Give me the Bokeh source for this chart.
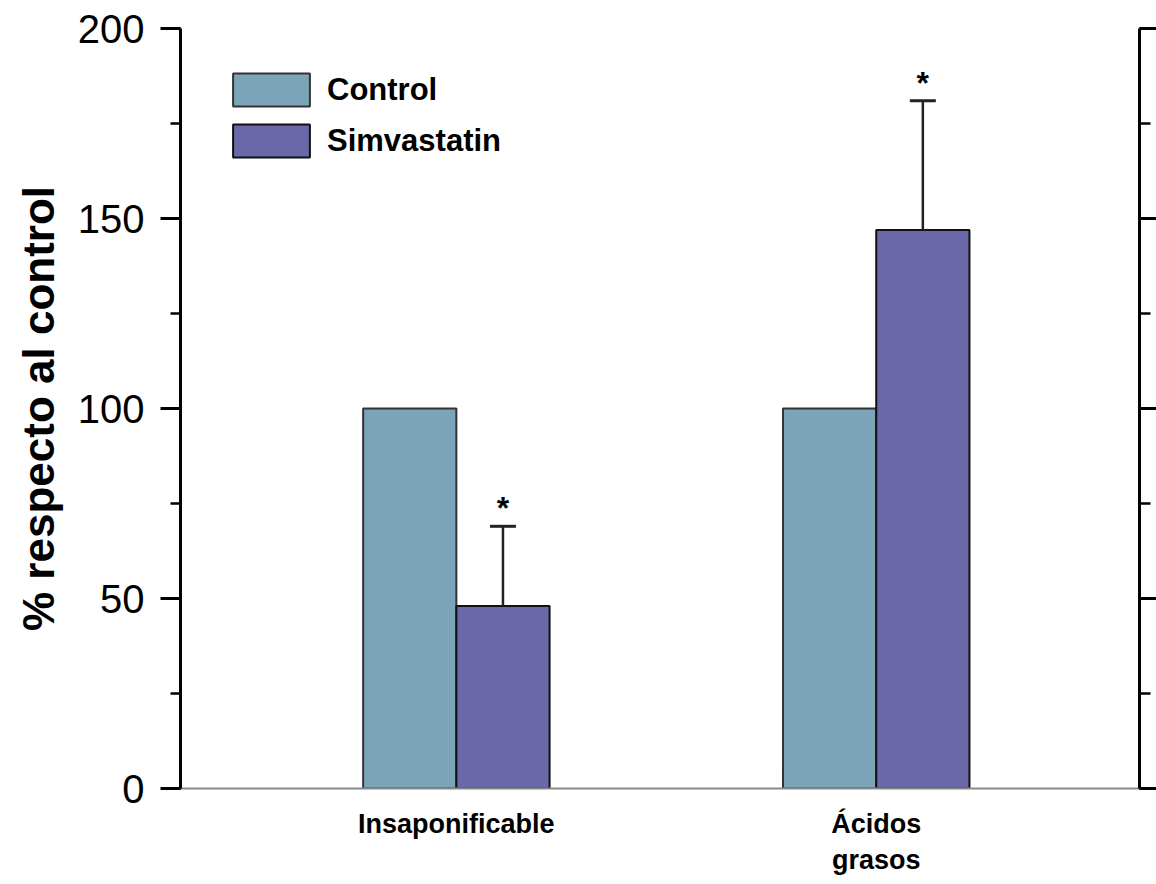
from bokeh.plotting import figure
from bokeh.models import (ColumnDataSource, Range1d, LinearAxis, SingleIntervalTicker,
                          FixedTicker, Whisker, TeeHead, Legend, LegendItem)
from bokeh.core.properties import value
from bokeh.embed import file_html
from bokeh.resources import INLINE

# ---- data ----
categories = ["Insaponificable", "Ácidos\ngrasos"]
control = [100, 100]
simvastatin = [48, 147]
simvastatin_err = [21, 34]
significant = ["*", "*"]
y_title = "% respecto al control"

FONT = "Liberation Sans"
C_CONTROL = "#7ba4b8"
C_SIMV = "#6a68a8"

idx = list(range(len(categories)))
off = 0.111
bw = 0.222

src_c = ColumnDataSource(dict(x=[i - off for i in idx], top=control))
src_s = ColumnDataSource(dict(
    x=[i + off for i in idx], top=simvastatin,
    upper=[v + e for v, e in zip(simvastatin, simvastatin_err)],
    lower=simvastatin, star=significant))

p = figure(width=1156, height=884, output_backend="svg", toolbar_location=None,
           x_range=Range1d(-0.657, 1.627), y_range=Range1d(0, 200),
           min_border_left=180, min_border_top=28, min_border_bottom=96,
           min_border_right=0)
p.outline_line_color = None
p.grid.visible = False
p.background_fill_color = "white"
p.border_fill_color = "white"

r_c = p.vbar(x="x", top="top", width=bw, source=src_c, fill_color=C_CONTROL,
             line_color="#333333", line_width=2)
r_s = p.vbar(x="x", top="top", width=bw, source=src_s, fill_color=C_SIMV,
             line_color="#111111", line_width=2)

wh = Whisker(source=src_s, base="x", upper="upper", lower="lower",
             upper_head=TeeHead(size=26, line_width=3, line_color="#222222"),
             lower_head=None, line_width=2.5, line_color="#222222", level="overlay")
p.add_layout(wh)

p.text(x="x", y="upper", text="star", source=src_s, text_align="center",
       text_baseline="alphabetic", y_offset=-18, text_font=value(FONT),
       text_font_style="bold", text_font_size="32px", text_color="black")

# y axis (left)
yax = p.yaxis[0]
yax.ticker = SingleIntervalTicker(interval=50, num_minor_ticks=2)
yax.axis_line_width = 3
yax.axis_line_color = "black"
yax.major_tick_line_width = 3
yax.minor_tick_line_width = 2.5
yax.major_tick_out = 20
yax.major_tick_in = 0
yax.minor_tick_out = 10
yax.minor_tick_in = 0
yax.major_label_text_font = FONT
yax.major_label_text_font_size = "40px"
yax.major_label_text_color = "black"
yax.major_label_standoff = 16
yax.axis_label = y_title
yax.axis_label_text_font = FONT
yax.axis_label_text_font_style = "bold"
yax.axis_label_text_font_size = "44px"
yax.axis_label_text_color = "black"
yax.axis_label_standoff = 12

# x axis
xax = p.xaxis[0]
xax.ticker = FixedTicker(ticks=idx)
xax.major_label_overrides = {i: c for i, c in zip(idx, categories)}
xax.axis_line_color = "#8a8a8a"
xax.axis_line_width = 2
xax.major_tick_line_color = None
xax.minor_tick_line_color = None
xax.major_tick_out = 0
xax.major_label_standoff = 20
xax.major_label_text_font = FONT
xax.major_label_text_font_style = "bold"
xax.major_label_text_font_size = "27px"
xax.major_label_text_color = "black"

# right axis (edge of the adjacent panel)
rax = LinearAxis(ticker=SingleIntervalTicker(interval=50, num_minor_ticks=2))
rax.axis_line_width = 3
rax.major_tick_line_width = 3
rax.minor_tick_line_width = 2.5
rax.major_tick_out = 17
rax.major_tick_in = 0
rax.minor_tick_out = 11
rax.minor_tick_in = 0
rax.major_label_text_font_size = "1px"
rax.major_label_text_color = None
rax.major_label_standoff = 0
p.add_layout(rax, "right")

legend = Legend(items=[LegendItem(label="Control", renderers=[r_c]),
                       LegendItem(label="Simvastatin", renderers=[r_s])],
                location=(43, 627))
legend.glyph_width = 96
legend.glyph_height = 41
legend.label_text_font = FONT
legend.label_text_font_style = "bold"
legend.label_text_font_size = "31px"
legend.label_text_color = "black"
legend.label_standoff = 8
legend.spacing = 10
legend.padding = 0
legend.margin = 0
legend.border_line_color = None
legend.background_fill_alpha = 0
p.add_layout(legend)

open("out.html", "w").write(file_html(p, INLINE))
